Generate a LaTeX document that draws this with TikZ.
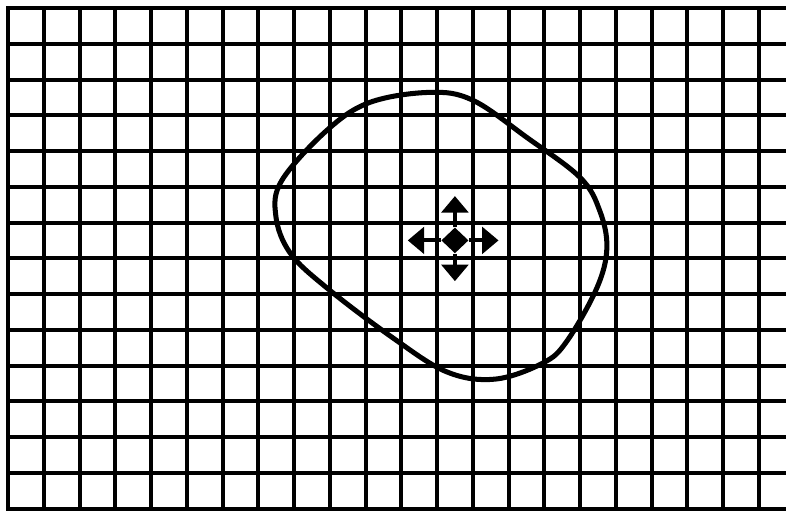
\documentclass[tikz,border=0pt]{standalone}
\usepackage{tikz}
\usetikzlibrary{arrows.meta,shapes.geometric}

\begin{document}
\begin{tikzpicture}[
  gridline/.style={line width=3.2pt, black, line cap=rect},
  blob/.style={line width=4pt, black},
  handle/.style={diamond, fill=black, inner sep=0pt,
    minimum width=0.76cm, minimum height=0.72cm},
  movearr/.style={-{Triangle[width=0.74cm,length=0.46cm]}, line width=3.2pt, black}
]
\useasboundingbox (-0.224,-0.056) rectangle (21.76,14.224);

% paper grid
\draw[gridline] (0,0) grid (21,14);
\foreach \y in {0,...,14}
  \draw[gridline] (21,\y) -- (21.76,\y);

% the selected outline
\draw[blob] plot[smooth cycle, tension=0.6] coordinates {
  (11.80,11.64) (13.00,11.42) (14.51,10.38) (16.00,9.26) (16.55,8.33)
  (16.75,7.29) (16.47,6.17) (15.63,4.68) (14.96,4.07) (13.62,3.62)
  (12.28,3.82) (10.77,4.77) (8.92,6.17) (7.89,7.15) (7.49,8.19)
  (7.66,9.18) (8.92,10.58) (10.12,11.36)};

% move cursor
\node[handle] (mv) at (12.5,7.5) {};
\coordinate (mvN) at (12.5,8.74);
\coordinate (mvS) at (12.5,6.36);
\coordinate (mvW) at (11.18,7.5);
\coordinate (mvE) at (13.72,7.5);
\draw[movearr] (mv) -- (mvN);
\draw[movearr] (mv) -- (mvS);
\draw[movearr] (mv) -- (mvW);
\draw[movearr] (mv) -- (mvE);
\end{tikzpicture}
\end{document}
